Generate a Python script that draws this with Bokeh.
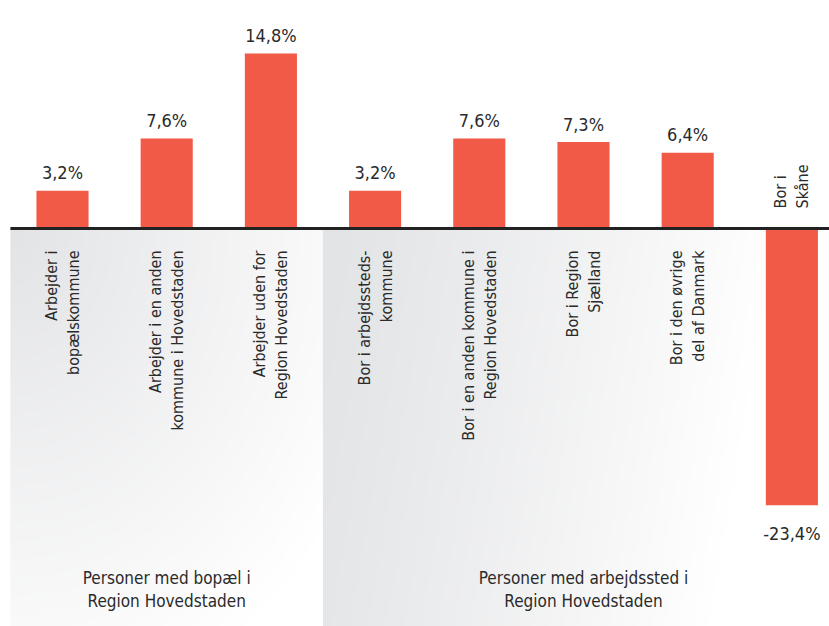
import numpy as np
from bokeh.plotting import figure
from bokeh.models import Range1d, ColumnDataSource
from bokeh.core.properties import value
from bokeh.embed import file_html
from bokeh.resources import INLINE

# ---- data ----
categories = [
    "Arbejder i\nbopælskommune",
    "Arbejder i en anden\nkommune i Hovedstaden",
    "Arbejder uden for\nRegion Hovedstaden",
    "Bor i arbejdssteds-\nkommune",
    "Bor i en anden kommune i\nRegion Hovedstaden",
    "Bor i Region\nSjælland",
    "Bor i den øvrige\ndel af Danmark",
    "Bor i\nSkåne",
]
values = [3.2, 7.6, 14.8, 3.2, 7.6, 7.3, 6.4, -23.4]
group_labels = [
    "Personer med bopæl i\nRegion Hovedstaden",
    "Personer med arbejdssted i\nRegion Hovedstaden",
]
group_sizes = [3, 5]

FONT = value("'DejaVu Sans Condensed', 'Roboto Condensed', 'Liberation Sans Narrow', 'Arial Narrow', Roboto, sans-serif")
TXT = "#2a2a2a"
BAR = "#F05A47"

xs = list(range(len(values)))
val_labels = [f"{v:.1f}".replace(".", ",") + "%" for v in values]

p = figure(width=829, height=626, output_backend="svg", toolbar_location=None,
           x_range=Range1d(-0.595, 7.361), y_range=Range1d(-33.64, 19.27),
           min_border=0, outline_line_color=None)
p.xaxis.visible = False
p.yaxis.visible = False
p.xgrid.visible = False
p.ygrid.visible = False
p.background_fill_color = "white"

# ---- gradient background panels ----
ybot = p.y_range.start
start = 0
for gi, n in enumerate(group_sizes):
    x0 = start - 0.5
    x1 = start + n - 0.5
    ny, nx = 120, 160
    fx = np.linspace(0, 1, nx)[None, :]
    fy = (1 - np.linspace(0, 1, ny))[:, None]  # 0 at top, 1 at bottom
    if gi == 0:
        t = np.clip(np.sqrt(fx ** 2 + fy ** 2) * 0.8, 0, 1)
    else:
        t = np.clip(fx * 1.15 + fy * 0.15, 0, 1) ** 1.2
    base = np.array([227, 228, 230], dtype=float)
    img = np.empty((ny, nx), dtype=np.uint32)
    view = img.view(dtype=np.uint8).reshape((ny, nx, 4))
    for c in range(3):
        view[:, :, c] = (base[c] + (255 - base[c]) * t).astype(np.uint8)
    view[:, :, 3] = 255
    p.image_rgba(image=[img], x=x0, y=ybot, dw=x1 - x0, dh=-ybot)
    start += n

# ---- bars ----
src = ColumnDataSource(dict(x=xs, top=values))
p.vbar(x="x", top="top", bottom=0, width=0.5, source=src,
       fill_color=BAR, line_color=None)

# ---- axis line ----
p.segment(x0=-0.5, y0=0, x1=p.x_range.end, y1=0, line_color="#222222", line_width=3)

# ---- value labels ----
pos = [i for i, v in enumerate(values) if v >= 0]
neg = [i for i, v in enumerate(values) if v < 0]
p.text(x=[xs[i] for i in pos], y=[values[i] for i in pos], text=[val_labels[i] for i in pos],
       text_align="center", text_baseline="alphabetic", y_offset=-18,
       text_font=FONT, text_font_size="18px", text_color=TXT)
p.text(x=[xs[i] for i in neg], y=[values[i] for i in neg], text=[val_labels[i] for i in neg],
       text_align="center", text_baseline="top", y_offset=18,
       text_font=FONT, text_font_size="18px", text_color=TXT)

# ---- category labels (rotated) ----
p.text(x=[xs[i] for i in pos], y=[0] * len(pos), text=[categories[i] for i in pos],
       angle=np.pi / 2, text_align="right", text_baseline="middle", y_offset=22,
       text_font=FONT, text_font_size="16px", text_color=TXT, text_line_height=1.15)
p.text(x=[xs[i] for i in neg], y=[0] * len(neg), text=[categories[i] for i in neg],
       angle=np.pi / 2, text_align="left", text_baseline="middle", y_offset=-20,
       text_font=FONT, text_font_size="16px", text_color=TXT, text_line_height=1.15)

# ---- group labels ----
gx = []
start = 0
for n in group_sizes:
    gx.append(start + (n - 1) / 2)
    start += n
p.text(x=gx, y=[-30.5] * len(gx), text=group_labels,
       text_align="center", text_baseline="middle",
       text_font=FONT, text_font_size="17px", text_color=TXT, text_line_height=1.15)

open("out.html", "w").write(file_html(p, INLINE))
